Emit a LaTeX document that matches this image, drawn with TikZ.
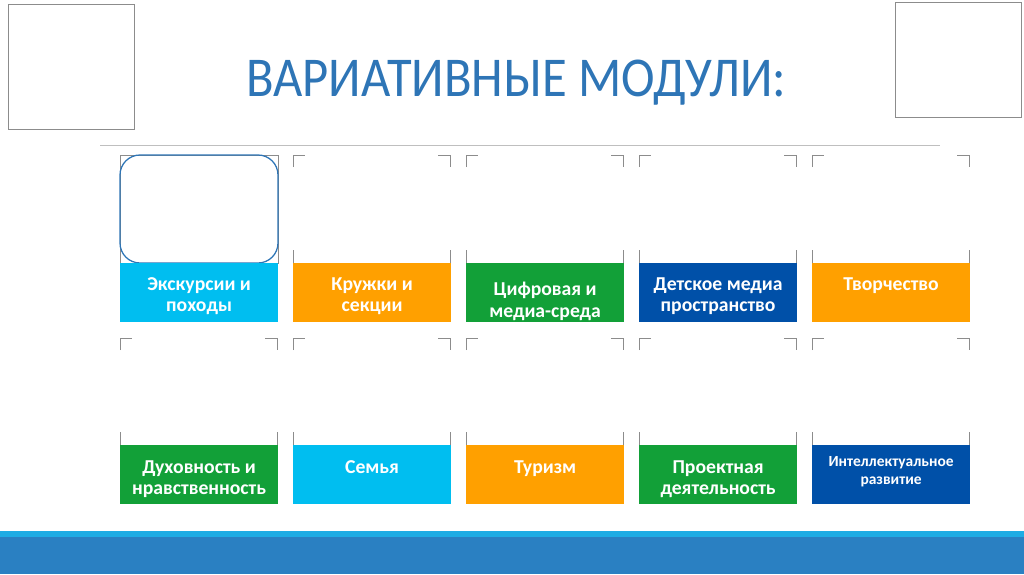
\documentclass[tikz,border=0pt]{standalone}
\usepackage{fontspec}
\setmainfont{Carlito}
\usetikzlibrary{positioning}
\definecolor{titleblue}{RGB}{46,117,182}
\definecolor{modcyan}{RGB}{0,190,240}
\definecolor{modorange}{RGB}{255,160,0}
\definecolor{modgreen}{RGB}{18,160,56}
\definecolor{modblue}{RGB}{0,80,168}
\definecolor{framegray}{RGB}{140,140,140}
\definecolor{stripelight}{RGB}{30,172,228}
\definecolor{stripedark}{RGB}{42,128,194}

\begin{document}
\begin{tikzpicture}[
    x=0.025cm, y=-0.025cm,
    module/.style={rectangle, anchor=north west, minimum width=3.94cm, minimum height=1.46cm, inner sep=0pt},
    modtext/.style={text=white, font=\bfseries\fontsize{14}{15}\selectfont, align=center, inner sep=0pt},
    frame/.style={draw=framegray, line width=0.5pt},
    rule/.style={draw=black!25, line width=0.6pt}
]
    \useasboundingbox (0,0) rectangle (1024,574);

    % picture placeholders at the top corners
    \draw[frame] (8,4) rectangle (134,129);
    \draw[frame] (895,2) rectangle (1021,117);

    \node[text=titleblue, font=\fontsize{40}{46}\selectfont, xscale=0.9] (title) at (516,83) {ВАРИАТИВНЫЕ МОДУЛИ:};
    \coordinate (ruleL) at (100,145);
    \coordinate (ruleR) at (940,145);
    \draw[rule] (ruleL) -- (ruleR);

    % corner marks of the empty pictures
    \foreach \x in {293,466,639,812} {
        \draw[frame] (\x,167) -- (\x,155) -- (\x+12,155);
        \draw[frame] (\x+145,155) -- (\x+157,155) -- (\x+157,167);
        \draw[frame] (\x,250) -- (\x,263);
        \draw[frame] (\x+157,250) -- (\x+157,263);
    }
    \foreach \x in {120,293,466,639,812} {
        \draw[frame] (\x,350) -- (\x,338) -- (\x+12,338);
        \draw[frame] (\x+145,338) -- (\x+157,338) -- (\x+157,350);
        \draw[frame] (\x,432) -- (\x,445);
        \draw[frame] (\x+157,432) -- (\x+157,445);
    }
    \draw[frame] (120,155) rectangle (278,263);
    \draw[titleblue, line width=0.9pt, rounded corners=0.5cm] (120,155) rectangle (278,263);

    % first row
    \node[module, fill=modcyan] (excur) at (120,263) {};
    \node[module, fill=modorange] (clubs) at (293,263) {};
    \node[module, fill=modgreen] (digital) at (466,263) {};
    \node[module, fill=modblue] (media) at (639,263) {};
    \node[module, fill=modorange] (creative) at (812,263) {};

    \node[modtext, below=0.36cm of excur.north] (excurT) {Экскурсии и\\походы};
    \node[modtext, below=0.36cm of clubs.north] (clubsT) {Кружки и\\секции};
    \node[modtext, below=0.48cm of digital.north] (digitalT) {Цифровая и\\медиа-среда};
    \node[modtext, below=0.36cm of media.north] (mediaT) {Детское медиа\\пространство};
    \node[modtext, below=0.36cm of creative.north] (creativeT) {Творчество};

    % second row
    \node[module, fill=modgreen] (moral) at (120,445) {};
    \node[module, fill=modcyan] (family) at (293,445) {};
    \node[module, fill=modorange] (tourism) at (466,445) {};
    \node[module, fill=modgreen] (project) at (639,445) {};
    \node[module, fill=modblue] (intellect) at (812,445) {};

    \node[modtext, below=0.38cm of moral.north] (moralT) {Духовность и\\нравственность};
    \node[modtext, below=0.38cm of family.north] (familyT) {Семья};
    \node[modtext, below=0.38cm of tourism.north] (tourismT) {Туризм};
    \node[modtext, below=0.38cm of project.north] (projectT) {Проектная\\деятельность};
    \node[modtext, font=\bfseries\fontsize{11}{12.8}\selectfont, below=0.28cm of intellect.north] (intellectT) {Интеллектуальное\\развитие};

    % bottom band
    \fill[stripelight] (0,531) rectangle (1024,537);
    \fill[stripedark] (0,537) rectangle (1024,574);

\end{tikzpicture}
\end{document}
